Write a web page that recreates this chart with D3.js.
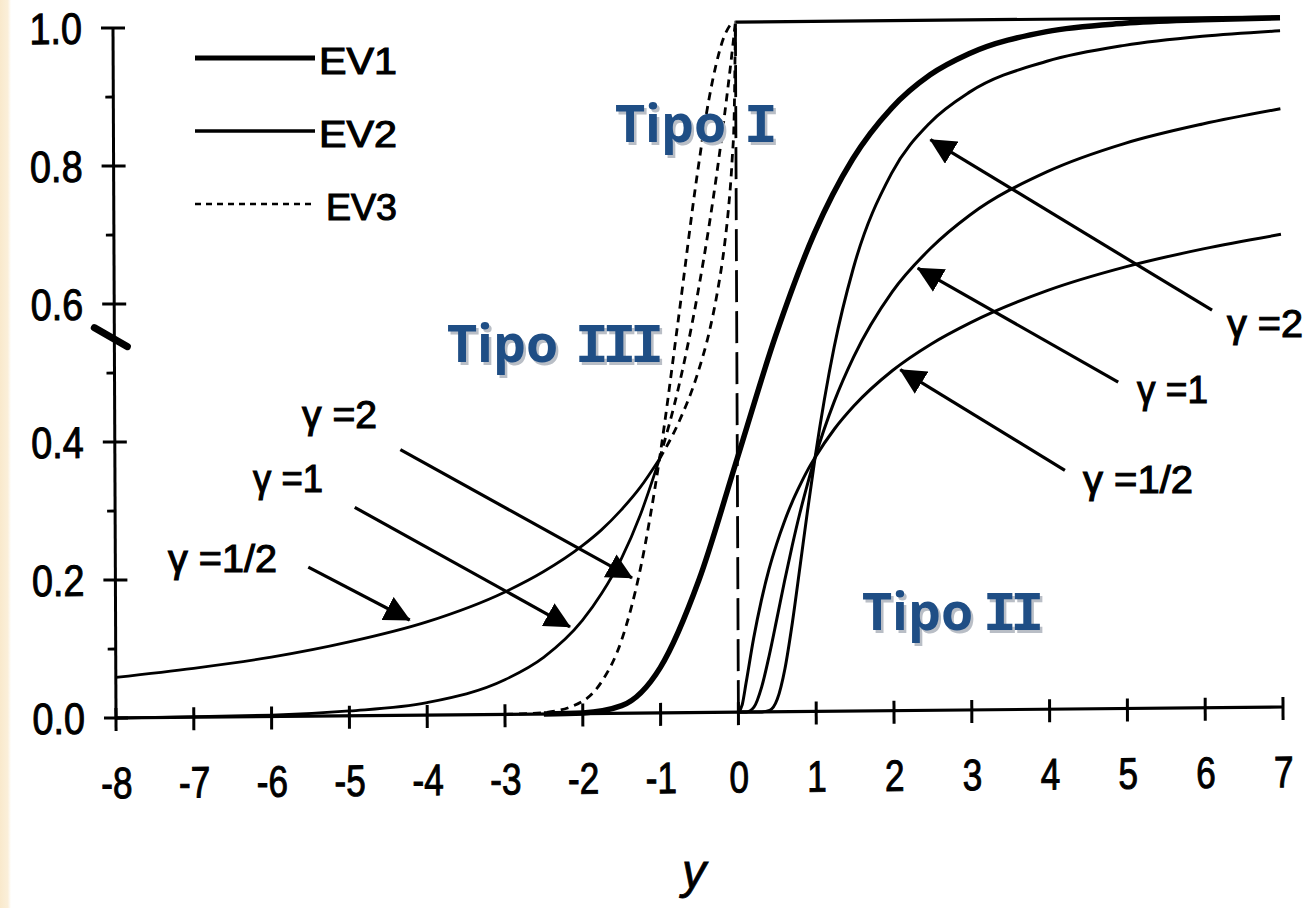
<!DOCTYPE html>
<html>
<head>
<meta charset="utf-8">
<script src="https://cdn.jsdelivr.net/npm/d3@7"></script>
<style>
  html, body { margin: 0; padding: 0; background: #fff; }
  svg { display: block; }
</style>
</head>
<body>
<svg id="chart" width="1304" height="908"></svg>
<script>
// ---- Data: cumulative distribution functions of the three extreme-value types ----
// EV1 (Gumbel)
const ev1Y = [-2.5, -2, -1.5, -1, -0.5, 0, 0.5, 1, 1.5, 2, 2.5, 3, 4, 5, 6, 7];
const ev1P = [0.000, 0.001, 0.011, 0.066, 0.192, 0.368, 0.545, 0.692, 0.800, 0.873, 0.921, 0.951, 0.982, 0.993, 0.997, 0.999];

// EV2 (Fréchet), one column per shape parameter γ
const ev2Y     = [0, 0.05, 0.1, 0.2, 0.3, 0.4, 0.5, 0.6, 0.7, 0.8, 0.9, 1, 1.25, 1.5, 2, 2.5, 3, 4, 5, 6, 7];
const ev2Half  = [0, 0.011, 0.042, 0.107, 0.161, 0.206, 0.243, 0.275, 0.303, 0.327, 0.349, 0.368, 0.409, 0.442, 0.493, 0.531, 0.561, 0.607, 0.640, 0.665, 0.685];
const ev2One   = [0, 0.000, 0.000, 0.007, 0.036, 0.082, 0.135, 0.189, 0.240, 0.287, 0.329, 0.368, 0.449, 0.513, 0.607, 0.670, 0.717, 0.779, 0.819, 0.846, 0.867];
const ev2Two   = [0, 0.000, 0.000, 0.000, 0.000, 0.002, 0.018, 0.062, 0.130, 0.210, 0.291, 0.368, 0.527, 0.641, 0.779, 0.852, 0.895, 0.939, 0.961, 0.973, 0.980];

// EV3 (reverse Weibull), bounded above at y = 0
const ev3Y     = [-8, -7, -6, -5, -4, -3, -2.5, -2, -1.75, -1.5, -1.25, -1, -0.75, -0.5, -0.35, -0.25, -0.15, -0.1, -0.05, -0.02, 0];
const ev3Half  = [0.059, 0.071, 0.086, 0.107, 0.135, 0.177, 0.206, 0.243, 0.266, 0.294, 0.327, 0.368, 0.421, 0.493, 0.553, 0.607, 0.679, 0.729, 0.800, 0.868, 1];
const ev3One   = [0.000, 0.001, 0.002, 0.007, 0.018, 0.050, 0.082, 0.135, 0.174, 0.223, 0.287, 0.368, 0.472, 0.607, 0.705, 0.779, 0.861, 0.905, 0.951, 0.980, 1];
const ev3Two   = [0.000, 0.000, 0.000, 0.000, 0.000, 0.000, 0.002, 0.018, 0.047, 0.105, 0.210, 0.368, 0.570, 0.779, 0.885, 0.939, 0.978, 0.990, 0.998, 1.000, 1];
const ev3TopY  = [0, 7];
const ev3TopP  = [1, 1];
const boundY   = [0, 0];
const boundP   = [0, 1];

// Axis ticks
const xTicks = [-8, -7, -6, -5, -4, -3, -2, -1, 0, 1, 2, 3, 4, 5, 6, 7];
const yTicks = [0, 0.2, 0.4, 0.6, 0.8, 1.0];
const yMinorTicks = [0.1, 0.3, 0.5, 0.7, 0.9];

// Labels
const legendLabels = ["EV1", "EV2", "EV3"];
const gammaLabels = ["γ =2", "γ =1", "γ =1/2"];
const typeWords = ["Tipo", "Tipo", "Tipo"];
const typeNumerals = ["I", "II", "III"];

// Arrow annotations (data units: [y, F(y)])
const ev2Arrows = [
  { from: [6.11, 0.576], to: [2.50, 0.827] },
  { from: [4.90, 0.473], to: [2.33, 0.641] },
  { from: [4.21, 0.346], to: [2.10, 0.494] }
];
const ev3Arrows = [
  { from: [-4.33, 0.385], to: [-1.36, 0.196] },
  { from: [-4.92, 0.302], to: [-2.16, 0.126] },
  { from: [-5.52, 0.216], to: [-4.22, 0.138] }
];

// ---- Drawing ----
const svg = d3.select("#chart");
const defs = svg.append("defs");

svg.append("rect").attr("width", 1304).attr("height", 908).attr("fill", "#fff");

// paper edge on the left
const edge = defs.append("linearGradient").attr("id", "paperEdge").attr("x1", 0).attr("x2", 1);
edge.append("stop").attr("offset", 0).attr("stop-color", "#f9e9cc");
edge.append("stop").attr("offset", 0.7).attr("stop-color", "#fbefd9");
edge.append("stop").attr("offset", 1).attr("stop-color", "#ffffff");
svg.append("rect").attr("x", 0).attr("y", 0).attr("width", 11).attr("height", 908).attr("fill", "url(#paperEdge)");

defs.append("marker")
  .attr("id", "head")
  .attr("viewBox", "0 0 26 26")
  .attr("refX", 25).attr("refY", 13)
  .attr("markerWidth", 26).attr("markerHeight", 26)
  .attr("markerUnits", "userSpaceOnUse")
  .attr("orient", "auto")
  .append("path").attr("d", "M0,0 L26,13 L0,26 Z").attr("fill", "#000");

const W = 1167, H = 690;
const x = d3.scaleLinear().domain([-8, 7]).range([0, W]);
const y = d3.scaleLinear().domain([0, 1]).range([0, -H]);

// the scanned figure sits slightly askew on the page
const plot = svg.append("g").attr("transform", "matrix(1,-0.00943,0.00435,1,116,718)");

const smooth = d3.line().x(d => x(d[0])).y(d => y(d[1])).curve(d3.curveMonotoneX);
const straight = d3.line().x(d => x(d[0])).y(d => y(d[1]));

const tickFont = "'Liberation Sans', Arial, sans-serif";

// x axis: labels from d3.axisBottom, tick marks crossing the axis line
const gx = plot.append("g").call(
  d3.axisBottom(x).tickValues(xTicks).tickFormat(d => String(d)).tickSize(0)
);
gx.select(".domain").remove();
gx.selectAll(".tick line").remove();
gx.selectAll(".tick text")
  .attr("y", 49).attr("dy", "0.71em")
  .attr("font-size", 44).attr("font-family", tickFont)
  .attr("fill", "#000").attr("stroke", "#000").attr("stroke-width", 1)
  .attr("transform", "scale(0.8,1)");

// y axis labels
const ySx = 0.86;
const gy = plot.append("g").call(
  d3.axisLeft(y).tickValues(yTicks).tickFormat(d3.format(".1f")).tickSize(0)
);
gy.select(".domain").remove();
gy.selectAll(".tick line").remove();
gy.selectAll(".tick text")
  .attr("x", -31 / ySx).attr("dy", "0.34em")
  .attr("font-size", 44).attr("font-family", tickFont)
  .attr("fill", "#000").attr("stroke", "#000").attr("stroke-width", 1)
  .attr("transform", `scale(${ySx},1)`);

const axes = plot.append("g").attr("stroke", "#000").attr("fill", "none");
axes.append("line")
  .attr("x1", x(-8)).attr("x2", x(7)).attr("y1", y(0)).attr("y2", y(0))
  .attr("stroke-width", 3.2);
axes.append("line")
  .attr("x1", x(-8)).attr("x2", x(-8)).attr("y1", y(0)).attr("y2", y(1))
  .attr("stroke-width", 3);
axes.selectAll("line.xtick").data(xTicks).join("line")
  .attr("class", "xtick")
  .attr("x1", d => x(d)).attr("x2", d => x(d))
  .attr("y1", y(0) - 10).attr("y2", y(0) + 13)
  .attr("stroke-width", 3);
axes.selectAll("line.ytick").data(yTicks).join("line")
  .attr("class", "ytick")
  .attr("x1", x(-8) - 12).attr("x2", x(-8) + 12)
  .attr("y1", d => y(d)).attr("y2", d => y(d))
  .attr("stroke-width", 3);
axes.selectAll("line.yminor").data(yMinorTicks).join("line")
  .attr("class", "yminor")
  .attr("x1", x(-8) - 8).attr("x2", x(-8))
  .attr("y1", d => y(d)).attr("y2", d => y(d))
  .attr("stroke-width", 2.8);

// mark on the y axis
plot.append("line")
  .attr("x1", x(-8) - 20).attr("y1", y(0.566))
  .attr("x2", x(-8) + 13).attr("y2", y(0.538))
  .attr("stroke", "#000").attr("stroke-width", 7).attr("stroke-linecap", "round");

// curves
const curves = plot.append("g").attr("fill", "none").attr("stroke", "#000").attr("stroke-linejoin", "round");

// EV3: solid tails below y = -1, dashed towards the bound
const ev3Solid = [ev3Half, ev3One];
ev3Solid.forEach(p => {
  const pts = d3.zip(ev3Y, p);
  curves.append("path").attr("d", smooth(pts.filter(d => d[0] <= -1))).attr("stroke-width", 2.8);
  curves.append("path").attr("d", smooth(pts.filter(d => d[0] >= -1)))
    .attr("stroke-width", 2.8).attr("stroke-dasharray", "8,6");
});
curves.append("path").attr("d", smooth(d3.zip(ev3Y, ev3Two).filter(d => d[0] >= -3)))
  .attr("stroke-width", 2.8).attr("stroke-dasharray", "8,6");
curves.append("path").attr("d", straight(d3.zip(boundY, boundP)))
  .attr("stroke-width", 2.8).attr("stroke-dasharray", "32,9");
curves.append("path").attr("d", straight(d3.zip(ev3TopY, ev3TopP))).attr("stroke-width", 3.2);

// EV2
[ev2Half, ev2One, ev2Two].forEach(p => {
  curves.append("path").attr("d", smooth(d3.zip(ev2Y, p))).attr("stroke-width", 3);
});

// EV1
curves.append("path").attr("d", smooth(d3.zip(ev1Y, ev1P))).attr("stroke-width", 5.5);

// arrows
const arrows = plot.append("g").attr("stroke", "#000").attr("stroke-width", 3.2);
ev2Arrows.concat(ev3Arrows).forEach(a => {
  arrows.append("line")
    .attr("x1", x(a.from[0])).attr("y1", y(a.from[1]))
    .attr("x2", x(a.to[0])).attr("y2", y(a.to[1]))
    .attr("marker-end", "url(#head)");
});

// γ labels
const gammaFont = "'Liberation Sans', Arial, sans-serif";
const rightGamma = [[1227, 337, 76], [1137, 403, 71], [1083, 493, 110]];
const leftGamma = [[302, 428, 75], [253, 492, 70], [168, 572, 109]];
[rightGamma, leftGamma].forEach(set => {
  set.forEach((p, i) => {
    svg.append("text")
      .attr("x", p[0]).attr("y", p[1])
      .attr("textLength", p[2]).attr("lengthAdjust", "spacingAndGlyphs")
      .attr("font-family", gammaFont).attr("font-size", 38)
      .attr("fill", "#000").attr("stroke", "#000").attr("stroke-width", 1.1)
      .text(gammaLabels[i]);
  });
});

// legend
const legendRows = [
  { y: 58, w: 5, dash: null },
  { y: 131, w: 3.6, dash: null },
  { y: 204, w: 2.6, dash: "6,5" }
];
legendRows.forEach((r, i) => {
  svg.append("line")
    .attr("x1", 195).attr("x2", 315).attr("y1", r.y).attr("y2", r.y)
    .attr("stroke", "#000").attr("stroke-width", r.w)
    .attr("stroke-dasharray", r.dash);
  svg.append("text")
    .attr("x", i === 2 ? 326 : 319).attr("y", r.y + 16)
    .attr("textLength", i === 2 ? 71 : 78).attr("lengthAdjust", "spacingAndGlyphs")
    .attr("font-family", gammaFont).attr("font-size", 36)
    .attr("fill", "#000").attr("stroke", "#000").attr("stroke-width", 1.1)
    .text(legendLabels[i]);
});

// axis title
svg.append("text")
  .attr("x", 694).attr("y", 888)
  .attr("text-anchor", "middle")
  .attr("font-family", gammaFont).attr("font-size", 48).attr("font-style", "italic")
  .attr("fill", "#000").attr("stroke", "#000").attr("stroke-width", 0.8)
  .text("y");

// region labels
const typePos = [[615, 744, 142], [862, 983, 630], [447, 575, 362]];
const typeLayer = svg.append("g");
typePos.forEach((p, i) => {
  [["#b9bec6", 2.5], ["#1f4e85", 0]].forEach(([col, off]) => {
    const t = typeLayer.append("text")
      .attr("x", p[0] + off).attr("y", p[2] + off)
      .attr("fill", col)
      .attr("font-family", "'Open Sans', 'DejaVu Sans', sans-serif")
      .attr("font-weight", 700).attr("font-size", 52);
    t.append("tspan").text(typeWords[i]);
    t.append("tspan")
      .attr("x", p[1] + off)
      .attr("font-family", "'Liberation Mono', 'DejaVu Sans Mono', monospace")
      .attr("font-size", 56).attr("letter-spacing", -6)
      .text(typeNumerals[i]);
  });
});
</script>
</body>
</html>
